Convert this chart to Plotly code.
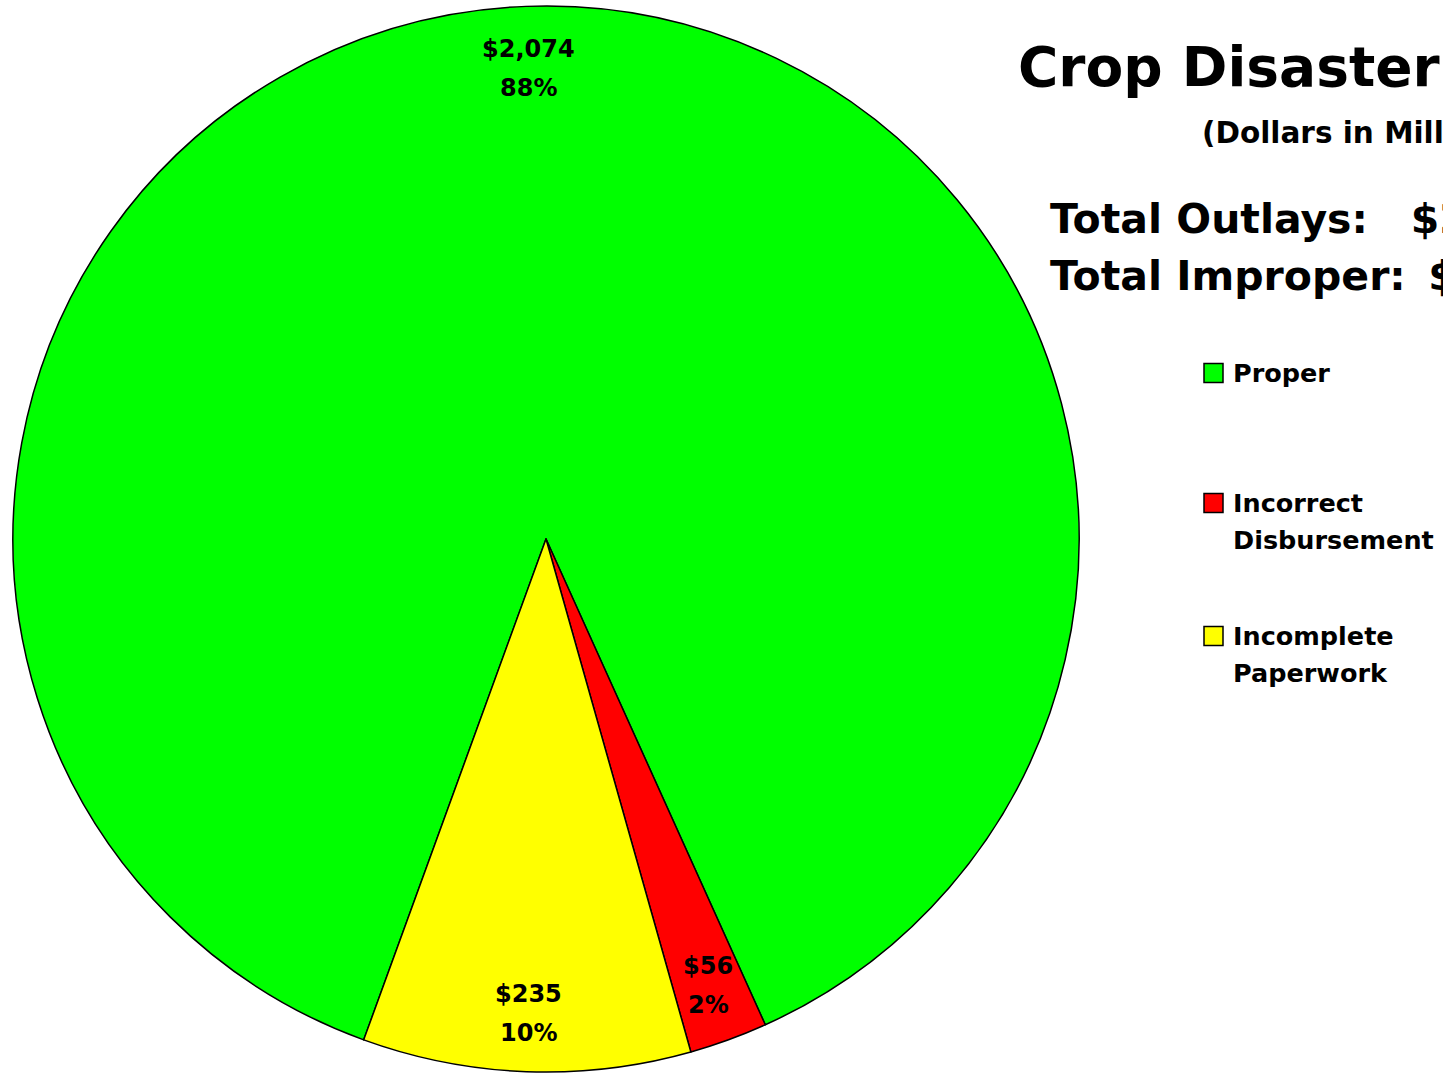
import math
import plotly.graph_objects as go

# ---- data ----
categories = ["Proper", "Incorrect Disbursement", "Incomplete Paperwork"]
values = [2074, 56, 235]
colors = ["#00FF00", "#FF0000", "#FFFF00"]
title_text = "Crop Disaster Program"
subtitle_text = "(Dollars in Millions)"
improper_categories = ["Incorrect Disbursement", "Incomplete Paperwork"]

total = sum(values)
improper = sum(v for c, v in zip(categories, values) if c in improper_categories)

# ---- layout constants ----
W, H = 1443, 1073
CX, CY, R = 546, 539, 533
ROT = -160  # first slice starts here (deg clockwise from 12 o'clock)
FONT = "DejaVu Sans"

fig = go.Figure()
fig.add_trace(go.Pie(
    labels=categories,
    values=values,
    sort=False,
    direction="clockwise",
    rotation=ROT,
    marker=dict(colors=colors, line=dict(color="black", width=1.5)),
    textinfo="none",
    hoverinfo="label+value+percent",
    showlegend=False,
    domain=dict(x=[(CX - R) / W, (CX + R) / W],
                y=[(H - CY - R) / H, (H - CY + R) / H]),
))

annotations = []
shapes = []


def add_text(text, px, py, size, xanchor="center"):
    annotations.append(dict(
        text=text, x=px / W, y=1 - py / H, xref="paper", yref="paper",
        xanchor=xanchor, yanchor="middle", showarrow=False,
        font=dict(family=FONT, size=size, color="black", weight="bold"),
    ))


# slice labels (value + percent) placed along each slice's mid-angle
cum = 0.0
for v in values:
    mid = ROT + (cum + v / 2) / total * 360
    cum += v
    a = math.radians(mid)
    px = CX + 0.888 * R * math.sin(a)
    py = CY - 0.888 * R * math.cos(a) + 2
    add_text(f"${v:,}", px, py - 19.5, 24)
    add_text(f"{round(v / total * 100)}%", px, py + 19.5, 24)

# titles
add_text(title_text, 1016, 66.5, 55, xanchor="left")
add_text(subtitle_text, 1200, 133, 29.5, xanchor="left")
add_text(f"Total Outlays:\u00a0\u00a0\u00a0${total:,}", 1048, 219, 41, xanchor="left")
add_text(f"Total Improper:\u00a0\u2009${improper:,}", 1048, 276, 41, xanchor="left")

# legend (manual)
legend_y = [373, 503, 636]
for cat, col, ly in zip(categories, colors, legend_y):
    shapes.append(dict(
        type="rect", xref="paper", yref="paper",
        x0=1204 / W, x1=1223 / W, y0=1 - (ly - 9.5) / H, y1=1 - (ly + 9.5) / H,
        fillcolor=col, line=dict(color="black", width=1.5),
    ))
    for k, line in enumerate(cat.split(" ")):
        add_text(line, 1231, ly + k * 36.5, 25.5, xanchor="left")

fig.update_layout(
    width=W, height=H,
    margin=dict(l=0, r=0, t=0, b=0),
    paper_bgcolor="white", plot_bgcolor="white",
    annotations=annotations, shapes=shapes,
    showlegend=False,
)

fig.write_html(
    "out.html",
    config={"displayModeBar": False},
    post_script="document.body.style.margin='0';document.body.style.overflow='hidden';",
)
